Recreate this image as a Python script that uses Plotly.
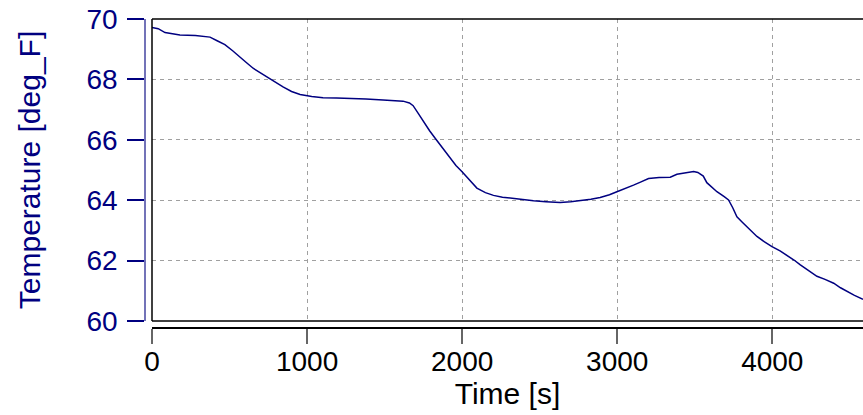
import plotly.graph_objects as go

time_s = [0, 40, 84, 130, 180, 280, 374, 420, 470, 520, 568, 610, 652, 700, 761, 800,
          845, 900, 955, 1030, 1103, 1190, 1277, 1380, 1490, 1580, 1619, 1660, 1684,
          1720, 1748, 1790, 1826, 1870, 1923, 1960, 1998, 2040, 2095, 2150, 2202, 2260,
          2331, 2400, 2460, 2540, 2632, 2700, 2761, 2830, 2890, 2950, 2998, 3050, 3105,
          3150, 3202, 3270, 3342, 3385, 3440, 3493, 3520, 3555, 3578, 3610, 3643, 3690,
          3718, 3745, 3772, 3805, 3837, 3870, 3901, 3950, 3998, 4050, 4095, 4140, 4181,
          4240, 4288, 4340, 4396, 4440, 4482, 4530, 4585]
temp_f = [69.72, 69.68, 69.55, 69.50, 69.47, 69.45, 69.40, 69.28, 69.15, 68.95, 68.72,
          68.55, 68.37, 68.22, 68.03, 67.88, 67.75, 67.60, 67.50, 67.43, 67.39, 67.38,
          67.37, 67.35, 67.32, 67.30, 67.28, 67.22, 67.13, 66.85, 66.62, 66.30, 66.05,
          65.75, 65.42, 65.15, 64.95, 64.70, 64.40, 64.25, 64.16, 64.10, 64.05, 64.02,
          63.98, 63.95, 63.92, 63.95, 63.98, 64.03, 64.09, 64.18, 64.28, 64.38, 64.50,
          64.60, 64.72, 64.75, 64.76, 64.86, 64.90, 64.95, 64.92, 64.80, 64.58, 64.42,
          64.28, 64.12, 64.01, 63.75, 63.45, 63.28, 63.12, 62.95, 62.80, 62.62, 62.46,
          62.32, 62.18, 62.02, 61.86, 61.65, 61.48, 61.38, 61.25, 61.10, 60.97, 60.85,
          60.72]

x_ticks = [0, 1000, 2000, 3000, 4000]
y_ticks = [60, 62, 64, 66, 68, 70]
x_title = "Time [s]"
y_title = "Temperature [deg_F]"

W, H = 863, 415
ml, mr, mt, mb = 145, 0, 19, 87
pw = W - ml - mr
ph = H - mt - mb
xd0 = 7 / pw
yd0 = 7 / ph

FONT = "Arial, Liberation Sans, sans-serif"
NAVY = "#000080"

fig = go.Figure()
fig.add_trace(go.Scatter(x=time_s, y=temp_f, mode="lines",
                         line=dict(color=NAVY, width=1.5), showlegend=False))

fig.update_layout(
    width=W, height=H,
    margin=dict(l=ml, r=mr, t=mt, b=mb, autoexpand=False),
    paper_bgcolor="white", plot_bgcolor="white",
    font=dict(family=FONT, size=28),
    xaxis=dict(
        domain=[xd0, 1], range=[0, 4585], anchor="free", position=0,
        automargin=False, ticklabeloverflow="allow",
        tickvals=x_ticks, ticks="outside", ticklen=15, tickcolor="#666666", tickwidth=1.5,
        showline=True, linecolor="black", linewidth=1.5,
        showgrid=True, gridcolor="#a0a0a0", griddash="4px,4px", gridwidth=1,
        zeroline=False,
        tickfont=dict(color="black", size=28),
        ticklabelstandoff=-6,
        title=dict(text=x_title, font=dict(color="black", size=30), standoff=0),
    ),
    yaxis=dict(
        domain=[yd0, 1], range=[60, 70], anchor="free", position=0,
        automargin=False, ticklabeloverflow="allow",
        tickvals=y_ticks, ticks="outside", ticklen=17, tickcolor=NAVY, tickwidth=1.5,
        showline=True, linecolor="#7373b8", linewidth=1.5,
        showgrid=True, gridcolor="#a0a0a0", griddash="4px,4px", gridwidth=1,
        zeroline=False,
        tickfont=dict(color=NAVY, size=28),
        ticklabelstandoff=4,
        title=dict(text=y_title, font=dict(color=NAVY, size=30), standoff=36),
    ),
    shapes=[
        dict(type="line", xref="paper", yref="paper", x0=xd0, x1=1, y0=1, y1=1,
             line=dict(color="black", width=1.5)),
        dict(type="line", xref="paper", yref="paper", x0=xd0, x1=1, y0=yd0, y1=yd0,
             line=dict(color="black", width=1.5)),
        dict(type="line", xref="paper", yref="paper", x0=xd0, x1=xd0, y0=yd0, y1=1,
             line=dict(color="black", width=1.5)),
    ],
)

fig.write_html(
    "out.html",
    config={"displayModeBar": False},
    post_script="document.body.style.margin='0';document.body.style.overflow='hidden';",
)
